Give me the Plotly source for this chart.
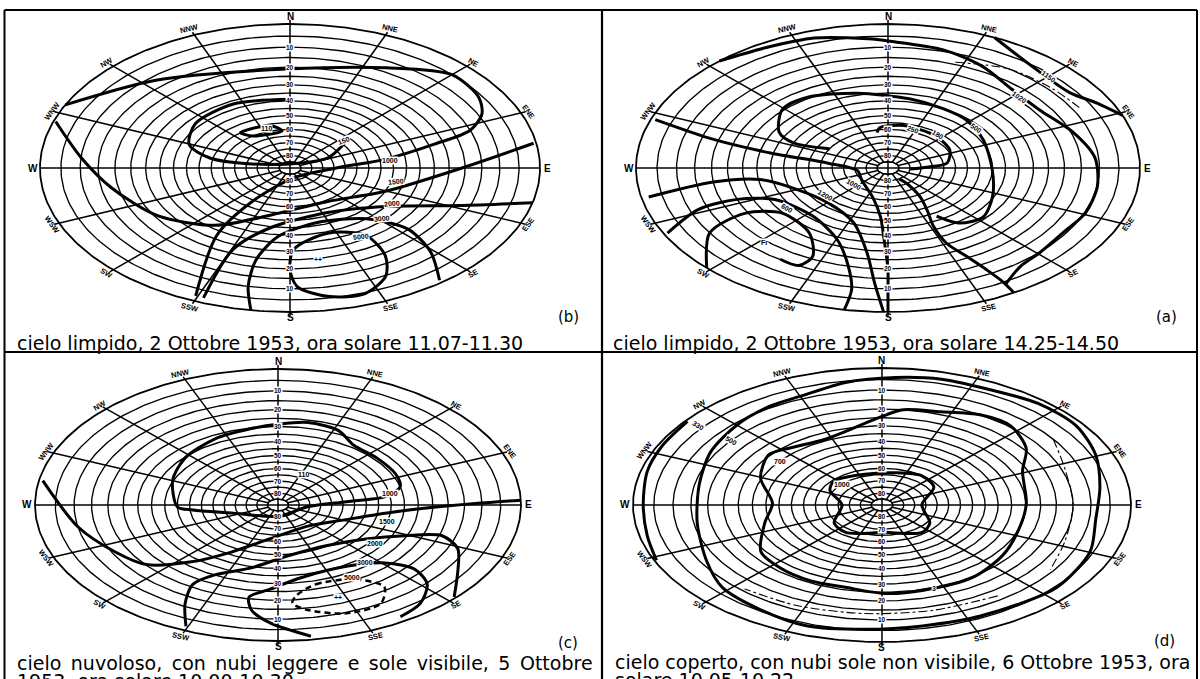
import numpy as np
import plotly.graph_objects as go

W, H = 1200, 679

DIRECTIONS = ["N", "NNE", "NE", "ENE", "E", "ESE", "SE", "SSE",
              "S", "SSW", "SW", "WSW", "W", "WNW", "NW", "NNW"]
RING_ALTITUDES = list(range(0, 90, 5))          # altitude circles every 5 degrees
ALTITUDE_TICKS = [10, 20, 30, 40, 50, 60, 70, 80]

EN = "\u2002"
CAPTIONS = {
    "b": ["cielo limpido, 2 Ottobre 1953, ora solare 11.07-11.30"],
    "a": ["cielo limpido, 2 Ottobre 1953, ora solare 14.25-14.50"],
    "c": [EN.join("cielo nuvoloso, con nubi leggere e sole visibile, 5 Ottobre".split(" ")),
          "1953, ora solare 10.00-10.30"],
    "d": ["cielo coperto, con nubi sole non visibile, 6 Ottobre 1953, ora",
          "solare 10.05-10.22"],
}

# ---- isolux lines: (azimuth deg from N clockwise, solar altitude deg) ----
# (b) clear sky, morning
B_1000 = [(296, 0), (319, 12), (359, 21), (29, 13), (45, 5), (57, 6), (64, 9), (70, 15),
          (74, 28), (81, 48), (90, 69), (168, 82), (213, 59), (212, 32), (203, 2)]
B_1500 = [(289, 0.5), (275, 10), (259, 18), (238, 26), (217, 37), (193, 53), (147, 59),
          (113, 45), (90, 21), (80, 0.6)]
B_2000 = [(104, 0), (111, 18), (125, 40), (154, 52), (191, 44), (202, 27), (201, 2)]
B_3000 = [(189, 0), (191.5, 10), (192, 24), (185.6, 39), (164, 47), (139, 40), (132, 25),
          (136, 12), (142.5, 1)]
B_5000 = [(178.5, 31), (180, 19.5), (178, 11), (170, 5.6), (161, 4.6), (153, 9.7),
          (148, 18.5), (147, 31.4), (161, 39), (178.5, 31)]
B_110 = [(321, 55), (345, 56), (353, 61), (340, 62), (326, 60), (321, 55)]
B_200 = [(0, 39), (333, 37), (309, 38), (292, 43), (282, 54), (288, 81), (65, 71), (50, 57)]

# (a) clear sky, afternoon
A_1150 = [(25, 0), (39, 5.5), (54, 6.6), (61.5, 3.3), (68.6, 0)]
A_1020 = [(318, 0), (330, 2), (342, 3), (355, 6), (0.5, 7.3), (15, 9.3), (27.8, 12.7),
          (42.3, 17.4), (56, 18.2), (71.8, 14.3), (85, 11), (98.7, 9.9), (111.7, 9.7),
          (123, 10.8), (134.5, 9.8), (142.4, 8.5), (150, 4)]
A_500 = [(300, 60), (295, 45), (300, 37), (314, 29.5), (327, 29.3), (346.7, 33.8), (10, 38),
         (28, 40), (43, 41), (62.8, 43.9), (92, 45), (115.6, 40.6), (132, 36.1),
         (143.6, 39.2), (150, 47.8)]
A_250 = [(350, 62), (353, 58.7), (9, 56.6), (25, 57), (42, 57.6), (63, 59.2), (81.5, 63.3),
         (87, 71), (95, 80)]
A_CORE = [(150, 80), (145, 74.6), (147.5, 63.4), (152, 53.5), (156, 42), (156, 30.3),
          (153, 20.8), (151, 12), (150, 5), (150, 0)]
A_1000 = [(290, 1), (286, 18.5), (282.6, 38.9), (278, 63), (262, 76), (230, 74.6),
          (197, 66.3), (185, 52.4), (182, 38.6), (180.5, 26.4), (180, 19), (180, 9.8), (180, 0)]
A_1200 = [(258, 1.7), (262, 20), (261, 35.6), (247, 47.6), (224, 52.5), (199.7, 46),
          (188, 28.4), (183.8, 12.6), (181, 0)]
A_600 = [(242.7, 0.9), (249, 12.2), (250, 25), (244, 36.9), (221.5, 41.7), (202, 33.5),
         (193, 20), (189.7, 8.8), (190, 0)]
A_SUN = [(226, 0), (237.5, 10), (241, 24), (233, 34.8), (214.7, 32.5), (206, 21.5),
         (207.6, 15.2), (214, 15.2)]
A_THIN = [(20, 14), (35, 10), (50, 9), (62, 8)]

# (c) cloudy sky, sun visible
C_1000 = [(268, 45), (292.6, 39.7), (312, 35.5), (332, 32.3), (348.5, 30.5), (0, 28.6),
          (11.5, 26.5), (24.5, 28), (35.4, 33.4), (49.8, 33.8), (65, 33.7), (75, 35),
          (82, 42), (85, 58.4), (96, 76), (180, 80.5), (253, 67.3), (264, 51.2), (268, 45)]
C_1500 = [(280.5, 0.9), (259, 10), (242.7, 16), (231, 20.3), (220, 33), (209, 46.8),
          (188, 61.7), (141.6, 67.6), (111, 56.6), (97.8, 42), (92.3, 28), (89, 10.3), (88, 0)]
C_2000 = [(203, 1.8), (207.8, 11.3), (211, 21.5), (206.6, 30.4), (193.8, 38.9), (173, 49),
          (145.7, 50.4), (124.7, 42.6), (113.5, 30.9), (108.5, 19.1), (113.5, 12.2),
          (123.4, 6.9), (133, 0.5)]
C_3000 = [(172, 1.5), (182, 8), (188, 14), (190, 20.8), (183, 26.4), (170, 33), (148, 34),
          (134, 26.9), (130, 17.4), (133.5, 9.5), (141, 4.1), (148.5, 2.1)]
C_4000 = [(173.5, 22.3), (165, 27.8), (150, 25.5), (144, 16.6), (149.7, 10), (160.5, 9.6),
          (171, 14), (175.3, 18.2), (173.5, 22.3)]

# (d) overcast sky
D_330 = [(308, 0.5), (296, 1), (284.6, 1.5), (270, 2.4), (256.6, 1.8), (246, 0.5)]
D_500 = [(338.4, 8.6), (350.7, 5.6), (3.3, 4), (14.6, 3), (24.6, 3.2), (40.2, 1.7),
         (53.6, 1.7), (67, 4), (81.6, 7), (97, 8.3), (112, 5.9), (130.5, 4.5), (154, 5.9),
         (169.6, 6.2), (184.4, 5.4), (199, 4), (212.5, 5.6), (227, 7.4), (239.6, 11.6),
         (260, 16), (281.8, 16.3), (299.4, 13.4), (315.4, 10.9), (327.6, 9.3), (338.4, 8.6)]
D_700 = [(0, 24.2), (7, 20), (19, 18.5), (30.9, 15), (42, 14.5), (54.6, 19.2), (66.3, 26.7),
         (89, 29.8), (107.8, 30), (127, 27.4), (145.5, 24.6), (165.4, 24.4), (179, 24.3),
         (193.8, 26.5), (207.3, 26.1), (221.8, 26.8), (235, 28.6), (254.7, 38), (271.6, 42.5),
         (292, 34.5), (308.7, 29.4), (317.4, 31.5), (335, 34), (0, 24.2)]
D_1000 = [(312, 60.8), (342.6, 63.6), (13, 62.9), (37, 60.2), (58, 62.4), (90, 71.8),
          (124, 63.9), (141, 61.2), (178, 67.4), (216, 62.2), (236, 63.9), (270, 71.8),
          (297, 63.6), (312, 60.8)]
D_THIN_E = [(55, 10), (70, 14), (90, 15), (110, 14), (125, 11)]
D_THIN_S = [(145, 12), (165, 13), (185, 13), (205, 12), (222, 11)]

# isolux labels: (text, azimuth, altitude, angle)
B_LABELS = [("1000", 83, 46, 0), ("1500", 102, 43, -5), ("2000", 121, 39, -5),
            ("3000", 134, 36, -5), ("5000", 149, 32, -5), ("110", 341, 58, 0),
            ("150", 49, 58, -20), ("++", 170, 24.5, 0)]
A_LABELS = [("1150", 45, 6, 35), ("1020", 47, 19, 35), ("500", 52, 42, 35),
            ("250", 20, 58, 20), ("180", 40, 56, 30), ("1000", 230, 70, 30),
            ("1200", 232, 55, 30), ("600", 235, 38, 30), ("Fr", 223.5, 19, 0)]
C_LABELS = [("110", 25, 62, 0), ("1000", 80, 40, 0), ("1500", 105, 40, 0),
            ("2000", 125, 38, 0), ("3000", 140, 32, 0), ("5000", 150, 27, 0), ("++", 160, 18, 0)]
D_LABELS = [("330", 308, 3.6, 30), ("500", 307.6, 15, 30), ("700", 308, 35.2, 0),
            ("1000", 313, 65, 0), ("3", 161, 24.3, 0)]

PANELS = [
    # key, center x, center y, semi-axis x, semi-axis y (pixels), tag position
    dict(key="b", cx=290, cy=168, a=250, b=144, tag=(568, 317), cap_x=15, cap_y=[343],
         lines=[B_1000, B_1500, B_2000, B_3000, B_5000, B_110, B_200], dashed=[], thin=[],
         labels=B_LABELS),
    dict(key="a", cx=888, cy=168, a=252, b=144, tag=(1166, 317), cap_x=611, cap_y=[343],
         lines=[A_1150, A_1020, A_500, A_250, A_CORE, A_1000, A_1200, A_600, A_SUN],
         dashed=[], thin=[A_THIN], labels=A_LABELS),
    dict(key="c", cx=278, cy=505, a=243, b=136, tag=(568, 643), cap_x=15, cap_y=[663, 681],
         lines=[C_1000, C_1500, C_2000, C_3000], dashed=[C_4000], thin=[], labels=C_LABELS),
    dict(key="d", cx=882, cy=505, a=249, b=137, tag=(1164, 641), cap_x=613, cap_y=[662, 680],
         lines=[D_330, D_500, D_700, D_1000], dashed=[], thin=[D_THIN_E, D_THIN_S],
         labels=D_LABELS),
]

R = 1.1


def project(az, alt):
    """Stereographic sky projection: zenith at the center, horizon on the unit circle."""
    az = np.radians(np.asarray(az, dtype=float))
    rho = np.tan(np.radians(90.0 - np.asarray(alt, dtype=float)) / 2.0)
    return rho * np.sin(az), rho * np.cos(az)


fig = go.Figure()
annotations = []
layout_axes = {}

for i, p in enumerate(PANELS, start=1):
    sx = "" if i == 1 else str(i)
    xref, yref = "x" + sx, "y" + sx
    layout_axes["xaxis" + sx] = dict(
        domain=[(p["cx"] - R * p["a"]) / W, (p["cx"] + R * p["a"]) / W],
        range=[-R, R], visible=False, fixedrange=True, anchor=yref)
    layout_axes["yaxis" + sx] = dict(
        domain=[(H - p["cy"] - R * p["b"]) / H, (H - p["cy"] + R * p["b"]) / H],
        range=[-R, R], visible=False, fixedrange=True, anchor=xref)

    common = dict(xaxis=xref, yaxis=yref, mode="lines", hoverinfo="skip", showlegend=False)

    # altitude circles
    t = np.linspace(0, 360, 361)
    for alt in RING_ALTITUDES + [85]:
        x, y = project(t, np.full_like(t, alt))
        fig.add_trace(go.Scatter(x=x, y=y, line=dict(color="black", width=1.8 if alt == 0 else 1.35),
                                 **common))
    # direction lines
    for k, name in enumerate(DIRECTIONS):
        az = k * 22.5
        if name in ("N", "S", "E", "W"):
            r0, r1 = 0.0, 1.03 if name in ("N", "S") else 1.0
        else:
            r0, r1 = np.tan(np.radians(2.5)), 1.02
        fig.add_trace(go.Scatter(x=[r0 * np.sin(np.radians(az)), r1 * np.sin(np.radians(az))],
                                 y=[r0 * np.cos(np.radians(az)), r1 * np.cos(np.radians(az))],
                                 line=dict(color="black", width=1.5), **common))
        # direction label
        d_px = np.hypot(p["a"] * np.sin(np.radians(az)), p["b"] * np.cos(np.radians(az)))
        rl = 1 + (5.0 if name == "S" else 7.5) / d_px
        ang = np.degrees(np.arctan2(p["b"] * np.sin(np.radians(az)), p["a"] * np.cos(np.radians(az))))
        if ang > 90:
            ang -= 180
        elif ang < -90:
            ang += 180
        cardinal = name in ("N", "S", "E", "W")
        annotations.append(dict(
            x=rl * np.sin(np.radians(az)), y=rl * np.cos(np.radians(az)), xref=xref, yref=yref,
            text="<b>%s</b>" % name, showarrow=False, textangle=0 if cardinal else ang,
            font=dict(family="Liberation Sans", size=10 if cardinal else 7.5, color="black")))

    # altitude ticks along the meridian
    for alt in ALTITUDE_TICKS:
        for az in (0, 180):
            x, y = project(az, alt)
            annotations.append(dict(x=float(x), y=float(y), xref=xref, yref=yref,
                                    text="<b>%d</b>" % alt, showarrow=False, bgcolor="white",
                                    borderpad=0, font=dict(family="Liberation Sans", size=6.5,
                                                           color="black")))

    # isolux lines
    for line in p["lines"]:
        az, alt = zip(*line)
        x, y = project(az, alt)
        fig.add_trace(go.Scatter(x=x, y=y, line=dict(color="black", width=3, shape="spline",
                                                     smoothing=0.8), **common))
    for line in p["dashed"]:
        az, alt = zip(*line)
        x, y = project(az, alt)
        fig.add_trace(go.Scatter(x=x, y=y, line=dict(color="black", width=2.5, shape="spline",
                                                     smoothing=0.8, dash="6px,4px"), **common))
    for line in p["thin"]:
        az, alt = zip(*line)
        x, y = project(az, alt)
        fig.add_trace(go.Scatter(x=x, y=y, line=dict(color="black", width=1.1, shape="spline",
                                                     smoothing=0.8, dash="dashdot"), **common))
    for text, az, alt, ang in p["labels"]:
        x, y = project(az, alt)
        annotations.append(dict(x=float(x), y=float(y), xref=xref, yref=yref, text="<b>%s</b>" % text,
                                showarrow=False, textangle=ang, bgcolor="white", borderpad=0,
                                font=dict(family="Liberation Sans", size=7, color="black")))

    # panel tag and caption
    annotations.append(dict(x=p["tag"][0] / W, y=1 - p["tag"][1] / H, xref="paper", yref="paper",
                            text="(%s)" % p["key"], showarrow=False, xanchor="center",
                            yanchor="middle", font=dict(family="DejaVu Sans", size=15, color="black")))
    for line_text, cy in zip(CAPTIONS[p["key"]], p["cap_y"]):
        annotations.append(dict(x=p["cap_x"] / W, y=1 - cy / H, xref="paper", yref="paper",
                                text=line_text, showarrow=False, xanchor="left", yanchor="middle",
                                font=dict(family="DejaVu Sans", size=19, color="black")))

shapes = [
    dict(type="line", xref="paper", yref="paper", x0=4.5 / W, x1=4.5 / W, y0=0, y1=1 - 10 / H,
         line=dict(color="black", width=2)),
    dict(type="line", xref="paper", yref="paper", x0=1197 / W, x1=1197 / W, y0=0, y1=1 - 10 / H,
         line=dict(color="black", width=2)),
    dict(type="line", xref="paper", yref="paper", x0=602 / W, x1=602 / W, y0=0, y1=1 - 10 / H,
         line=dict(color="black", width=2.2)),
    dict(type="line", xref="paper", yref="paper", x0=4.5 / W, x1=1197 / W, y0=1 - 10 / H,
         y1=1 - 10 / H, line=dict(color="black", width=2)),
    dict(type="line", xref="paper", yref="paper", x0=4.5 / W, x1=1197 / W, y0=1 - 352 / H,
         y1=1 - 352 / H, line=dict(color="black", width=2)),
]

fig.update_layout(width=W, height=H, margin=dict(l=0, r=0, t=0, b=0),
                  paper_bgcolor="white", plot_bgcolor="rgba(0,0,0,0)",
                  annotations=annotations, shapes=shapes, **layout_axes)
fig.write_html("out.html")
